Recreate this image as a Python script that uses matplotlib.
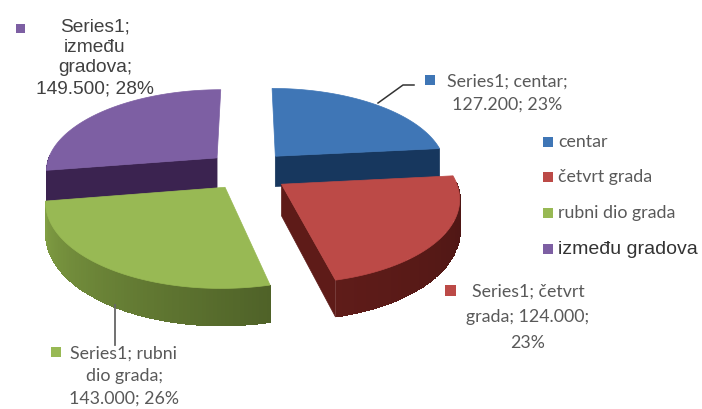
#!/usr/bin/env python3

import numpy as np
import matplotlib
matplotlib.use('Agg')
import matplotlib.pyplot as plt
from matplotlib.colors import to_rgb
from matplotlib.patches import Polygon, Rectangle

categories = ['centar', 'četvrt grada', 'rubni dio grada', 'između gradova']
values = [127200, 124000, 143000, 149500]
value_labels = ['127.200', '124.000', '143.000', '149.500']
percents = ['23%', '23%', '26%', '28%']

colors = ['#3f76b6', '#bc4a47', '#98b954', '#7d5fa3']
cut_colors = ['#17375e', '#5e1b18', '#5f7530', '#3b2350']
rim_start = ['#17375e', '#4a1513', '#4f6228', '#3b2350']
rim_end = ['#17375e', '#5f1c19', '#82a044', '#3b2350']
nudge = [(1, -1), (0, 2), (0, 0), (-1, -1)]

GREY = '#595959'
CX, CY = 248, 171
RX, RY = 172, 81.3
PERSP = 0.1446
EXPLODE = 0.234
DEPTH = 31


def project(X, Y):
    d = 1 + PERSP * Y
    return CX + RX * X / d, CY - RY * Y / d, DEPTH / d


def square(ax, x, y, color, s=10):
    ax.add_patch(Rectangle((x - s / 2, y - s / 2), s, s, color=color, lw=0))


fig = plt.figure(figsize=(7.02, 4.09), dpi=100)
ax = fig.add_axes([0, 0, 1, 1])
ax.set_xlim(0, 702)
ax.set_ylim(409, 0)
ax.axis('off')

fracs = np.array(values) / sum(values)
ends = np.cumsum(fracs) * 2 * np.pi
starts = ends - fracs * 2 * np.pi

# purple and blue sit behind, green and red go on top of them
for i in [3, 0, 2, 1]:
    t0, t1 = starts[i], ends[i]
    mid = (t0 + t1) / 2
    ox, oy = EXPLODE * np.sin(mid), EXPLODE * np.cos(mid)
    t = np.linspace(t0, t1, 90)
    ex, ey, ed = project(ox + np.sin(t), oy + np.cos(t))
    ax_, ay_, ad_ = project(ox, oy)
    ex, ey = ex + nudge[i][0], ey + nudge[i][1]
    ax_, ay_ = ax_ + nudge[i][0], ay_ + nudge[i][1]

    # flat cut faces, only those turned towards the viewer
    for ang, ny, k in [(t0, np.sin(t0), 0), (t1, -np.sin(t1), -1)]:
        if ny < -1e-6:
            ax.add_patch(Polygon([(ax_, ay_), (ex[k], ey[k]),
                                  (ex[k], ey[k] + ed[k]), (ax_, ay_ + ad_)],
                                 color=cut_colors[i], lw=0.5))

    # outer rim, shaded along the arc
    c0, c1 = np.array(to_rgb(rim_start[i])), np.array(to_rgb(rim_end[i]))
    for j in range(len(t) - 1):
        if np.cos(t[j]) > 0.02 and np.cos(t[j + 1]) > 0.02:
            continue
        f = (t[j] - t0) / (t1 - t0)
        ax.add_patch(Polygon([(ex[j], ey[j]), (ex[j + 1] + 0.6, ey[j + 1]),
                              (ex[j + 1] + 0.6, ey[j + 1] + ed[j + 1]),
                              (ex[j], ey[j] + ed[j])],
                             facecolor=c0 + (c1 - c0) * f, edgecolor='none',
                             antialiased=False))

    ax.add_patch(Polygon(np.vstack([[ax_, ay_], np.c_[ex, ey]]),
                         color=colors[i], lw=0.5))

# leader lines
ax.plot([378, 403, 414], [103, 85, 85], color='#333333', lw=1.1)
ax.plot([115, 115], [305, 345], color='#666666', lw=1.3)

# data labels
body = dict(family='Lato', fontsize=12.8, color=GREY, ha='center', va='center')
ax.text(507, 82, f'Series1; {categories[0]};', **body)
ax.text(507, 105, f'{value_labels[0]}; {percents[0]}', **body)
square(ax, 430, 80, colors[0])

ax.text(528, 292, 'Series1; četvrt', **body)
ax.text(528, 317, f'grada; {value_labels[1]};', **body)
ax.text(528, 343, percents[1], **body)
square(ax, 450, 290, colors[1], 11)

ax.text(124, 354, 'Series1; rubni', **body)
ax.text(124, 376, 'dio grada;', **body)
ax.text(124, 399, f'{value_labels[2]}; {percents[2]}', **body)
square(ax, 56, 352, colors[2])

head = dict(family='Liberation Sans', fontsize=13.8, color='#404040',
            ha='center', va='center')
ax.text(95, 27, 'Series1;', **head)
ax.text(95, 47, 'između', **head)
ax.text(95, 68, 'gradova;', **head)
ax.text(95, 89, f'{value_labels[3]}; {percents[3]}', **head)
square(ax, 20, 28, colors[3], 9)

# legend
leg_y = [142, 177, 213, 249]
for i, name in enumerate(categories):
    square(ax, 548, leg_y[i], colors[i])
    if i == 3:
        ax.text(558, leg_y[i], name, family='Liberation Sans', fontsize=14,
                color='#333333', va='center')
    else:
        ax.text(558, leg_y[i], name, family='Lato', fontsize=12.8, color=GREY,
                va='center')

fig.savefig('out.png', dpi=100)
